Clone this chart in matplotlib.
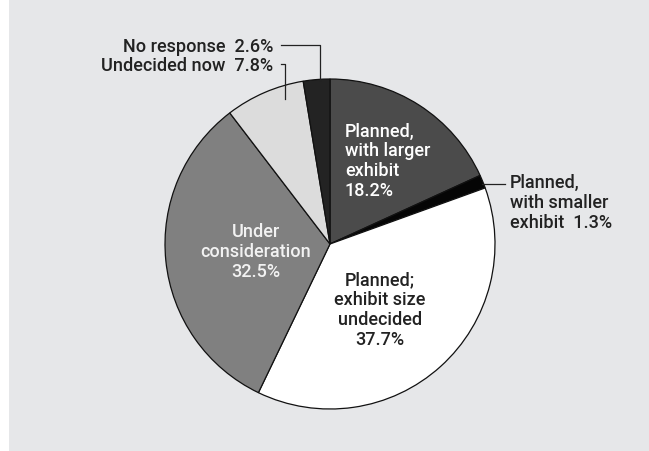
import matplotlib.pyplot as plt
from matplotlib.patches import Rectangle

plt.rcParams['font.family'] = 'Roboto'
plt.rcParams['font.weight'] = 'medium'

# exhibit plans, share of respondents (%), clockwise from 12 o'clock
labels = ['Planned, with larger exhibit', 'Planned, with smaller exhibit',
          'Planned; exhibit size undecided', 'Under consideration',
          'Undecided now', 'No response']
shares = [18.2, 1.3, 37.7, 32.5, 7.8, 2.6]
colors = ['#4b4b4b', '#050505', '#ffffff', '#808080', '#dcdcdc', '#232323']

W, H = 649, 452
fig = plt.figure(figsize=(W / 100, H / 100), dpi=100)
fig.patch.set_facecolor('white')
ax = fig.add_axes([0, 0, 1, 1])

# grey panel behind the chart
ax.add_patch(Rectangle((9, 0), W - 9, H - 1, facecolor='#e6e7e9', edgecolor='none', zorder=0))

cx, cy, r = 330, H - 245, 165
wedges, _ = ax.pie(shares, colors=colors, startangle=90, counterclock=False,
                   center=(cx, cy), radius=r, frame=True,
                   wedgeprops=dict(edgecolor='#111111', linewidth=0.9))
ax.set_xlim(0, W)
ax.set_ylim(0, H)
ax.set_aspect('equal')
ax.axis('off')

fs = 13
ls = 1.12

def py(y):
    return H - y

# labels inside the wedges
ax.text(345, py(161), f'Planned,\nwith larger\nexhibit\n{shares[0]}%', color='white',
        fontsize=fs, ha='left', va='center', linespacing=ls, zorder=5)
ax.text(380, py(310), f'Planned;\nexhibit size\nundecided\n{shares[2]}%', color='#222222',
        fontsize=fs, ha='center', va='center', linespacing=ls, zorder=5)
ax.text(256, py(252), f'Under\nconsideration\n{shares[3]}%', color='#f2f2f2',
        fontsize=fs, ha='center', va='center', linespacing=ls, zorder=5)

# outside labels with leader lines
ax.text(510, py(203), f'Planned,\nwith smaller\nexhibit  {shares[1]}%', color='#222222',
        fontsize=fs, ha='left', va='center', linespacing=ls, zorder=5)
ax.plot([482, 505], [py(185), py(185)], color='#222222', lw=0.9, zorder=6)

ax.text(273, py(47), f'No response  {shares[5]}%', color='#222222',
        fontsize=fs, ha='right', va='center', zorder=5)
ax.plot([281, 320, 320], [py(46), py(46), py(81)], color='#222222', lw=0.9, zorder=6)

ax.text(273, py(66), f'Undecided now  {shares[4]}%', color='#222222',
        fontsize=fs, ha='right', va='center', zorder=5)
ax.plot([281, 285, 285], [py(65), py(65), py(100)], color='#222222', lw=0.9, zorder=6)

fig.savefig('out.png', dpi=100)
